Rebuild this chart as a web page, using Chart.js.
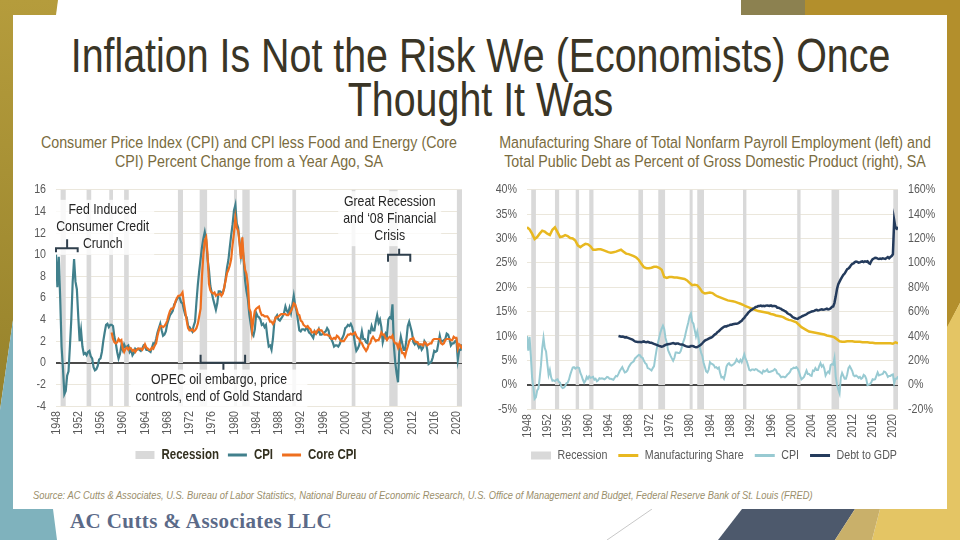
<!DOCTYPE html>
<html>
<head>
<meta charset="utf-8">
<title>Inflation Is Not the Risk</title>
<script src="https://cdn.jsdelivr.net/npm/chart.js@4.4.1/dist/chart.umd.min.js"></script>
<style>
  body { margin: 0; width: 960px; height: 540px; overflow: hidden; background: #fff; position: relative;
         font-family: 'Liberation Sans', Arial, sans-serif; }
  #deco { position: absolute; left: 0; top: 0; }
  /* Liberation Sans squeezed to stand in for Arial Narrow */
  .nw { position: absolute; transform: scaleX(0.82); white-space: nowrap; }
  .title { top: 34px; left: -89.5px; width: 1139px; transform-origin: 50% 0; text-align: center;
           font-size: 48px; line-height: 44px; color: #3a3526; }
  .sub { top: 132.5px; transform-origin: 50% 0; text-align: center; font-size: 17.4px; line-height: 19px; color: #7a6c40; }
  .source { left: 33px; top: 488.5px; transform-origin: 0 0; font-size: 11.4px; font-style: italic; color: #9a8e6a; }
  .logo { position: absolute; left: 70px; top: 509px; font-family: 'Liberation Serif', 'DejaVu Serif', serif;
          font-weight: bold; font-size: 21px; letter-spacing: 0.4px; color: #5b6a88; white-space: nowrap; }
  canvas { position: absolute; }
</style>
</head>
<body>
<svg id="deco" width="960" height="540">
  <defs>
    <linearGradient id="goldLeft" x1="0" y1="0" x2="0" y2="1">
      <stop offset="0" stop-color="#b59c3c"/>
      <stop offset="1" stop-color="#96822b"/>
    </linearGradient>
  </defs>
  <polygon points="0,0 58,0 50,60 13,320 0,410" fill="url(#goldLeft)"/>
  <polygon points="0,410 13,320 40,133 50,133 53,509 57,540 0,540" fill="#7fb2bd"/>
  <polygon points="741,0 805,0 805,40 741,20" fill="#8c8150"/>
  <polygon points="805,0 960,0 960,303 900,420 805,40" fill="#b38f2c"/>
  <polygon points="960,303 960,540 872,540 880,509 947,327" fill="#e4c564"/>
  <polygon points="742,509 855,509 835,540 718,540" fill="#4d596c"/>
  <polygon points="855,509 880,509 872,540 835,540" fill="#c9b06a"/>
  <line x1="607" y1="540" x2="652" y2="509" stroke="#c8c8c8" stroke-width="1"/>
  <rect x="13" y="15" width="934" height="494" fill="#fff"/>
</svg>

<div class="nw title">Inflation Is Not the Risk We (Economists) Once<br>Thought It Was</div>
<div class="nw sub" style="left:-31px;width:560px;">Consumer Price Index (CPI) and CPI less Food and Energy (Core<br>CPI) Percent Change from a Year Ago, SA</div>
<div class="nw sub" style="left:414.5px;width:600px;">Manufacturing Share of Total Nonfarm Payroll Employment (left) and<br>Total Public Debt as Percent of Gross Domestic Product (right), SA</div>

<canvas id="leftChart" width="472" height="302" style="left:10px;top:172px;"></canvas>
<canvas id="rightChart" width="472" height="302" style="left:478px;top:172px;"></canvas>

<div class="nw source">Source: AC Cutts &amp; Associates, U.S. Bureau of Labor Statistics, National Bureau of Economic Research, U.S. Office of Management and Budget, Federal Reserve Bank of St. Louis (FRED)</div>
<div class="logo">AC Cutts &amp; Associates LLC</div>

<script>
// CPI, % change from a year ago, quarterly from 1948 Q1
const cpiStartYear = 1948;
const cpiQuarterly = [
  10.0, 7.0, 9.8, 6.0,
  1.5, -0.5, -2.9, -2.6,
  -1.2, -0.8, 1.5, 4.0,
  7.5, 9.6, 7.5, 6.8,
  4.3, 2.0, 3.0, 1.5,
  0.8, 0.9, 0.7, 1.0,
  1.1, 0.6, 0.4, -0.4,
  -0.7, -0.6, -0.3, 0.3,
  0.4, 1.0, 2.0, 2.8,
  3.5, 3.6, 3.3, 3.5,
  3.5, 3.4, 2.4, 1.8,
  1.0, 0.4, 0.8, 1.6,
  1.2, 1.7, 1.4, 1.5,
  1.6, 1.0, 1.2, 0.7,
  0.9, 1.3, 1.2, 1.3,
  1.2, 1.1, 1.3, 1.6,
  1.5, 1.2, 1.2, 1.1,
  1.0, 1.4, 1.8, 1.7,
  2.2, 2.8, 3.2, 3.6,
  3.0, 2.5, 2.6, 2.9,
  3.6, 4.0, 4.4, 4.6,
  4.8, 5.4, 5.6, 5.9,
  6.1, 6.0, 5.6, 5.5,
  4.9, 4.4, 4.2, 3.4,
  3.3, 3.1, 2.9, 3.4,
  3.8, 5.6, 7.2, 8.5,
  9.6, 10.7, 11.5, 12.1,
  11.4, 9.6, 8.6, 7.1,
  6.5, 5.9, 5.4, 4.9,
  5.5, 6.6, 6.6, 6.5,
  6.5, 6.9, 7.8, 8.8,
  9.5, 10.7, 11.8, 12.8,
  14.1, 14.6, 12.9, 12.5,
  11.2, 9.9, 10.9, 9.5,
  7.6, 6.6, 5.9, 4.5,
  3.6, 2.7, 2.5, 3.1,
  4.6, 4.3, 4.2, 4.0,
  3.5, 3.6, 3.3, 3.5,
  2.4, 1.5, 1.6, 1.2,
  2.2, 3.7, 4.2, 4.4,
  4.0, 3.9, 4.1, 4.3,
  4.6, 5.2, 4.8, 4.6,
  5.1, 4.6, 5.4, 6.2,
  5.3, 4.8, 3.9, 3.0,
  2.9, 3.1, 3.1, 3.0,
  3.2, 3.1, 2.8, 2.7,
  2.5, 2.3, 2.9, 2.7,
  2.8, 3.1, 2.6, 2.6,
  2.7, 2.8, 2.9, 3.2,
  3.0, 2.3, 2.2, 1.9,
  1.5, 1.6, 1.6, 1.5,
  1.7, 2.1, 2.3, 2.6,
  3.2, 3.3, 3.5, 3.4,
  3.6, 3.3, 2.7, 1.8,
  1.1, 1.3, 1.6, 2.2,
  2.9, 2.2, 2.2, 1.9,
  1.8, 2.9, 2.8, 3.4,
  3.0, 3.0, 3.8, 4.4,
  3.7, 4.0, 3.3, 1.9,
  2.4, 2.7, 2.4, 4.0,
  4.2, 4.1, 5.4, 1.6,
  0.0, -1.0, -1.8, 1.5,
  2.4, 1.8, 1.2, 1.2,
  2.1, 3.4, 3.8, 3.3,
  2.8, 1.9, 1.7, 1.9,
  1.7, 1.4, 1.6, 1.2,
  1.4, 2.0, 1.8, 1.2,
  -0.1, 0.0, 0.1, 0.5,
  1.1, 1.0, 1.1, 1.8,
  2.5, 1.9, 2.0, 2.1,
  2.2, 2.7, 2.6, 2.2,
  1.6, 1.8, 1.8, 2.0,
  2.1, 0.3, 1.2, 1.2,
  1.7
];

// Core CPI (less food and energy), quarterly from 1958 Q1
const coreStartYear = 1958;
const coreQuarterly = [
  2.8, 2.2, 1.9, 1.8,
  1.9, 2.2, 2.0, 2.1,
  1.3, 1.0, 1.3, 1.4,
  1.2, 1.4, 1.3, 1.1,
  1.2, 1.0, 1.2, 1.3,
  1.3, 1.3, 1.2, 1.4,
  1.7, 1.4, 1.3, 1.2,
  1.2, 1.4, 1.3, 1.6,
  1.8, 2.5, 3.0, 3.4,
  3.4, 3.3, 3.4, 3.6,
  3.9, 4.4, 4.8, 5.0,
  5.0, 5.2, 5.7, 6.0,
  6.2, 6.2, 6.3, 6.5,
  5.5, 4.7, 3.9, 3.2,
  3.0, 3.0, 3.1, 2.9,
  3.0, 3.2, 3.6, 4.3,
  5.0, 8.0, 10.0, 11.3,
  11.6, 10.0, 7.3, 6.7,
  6.5, 6.4, 6.5, 6.2,
  6.3, 6.3, 6.4, 6.2,
  6.4, 7.0, 7.6, 8.3,
  8.6, 9.0, 9.6, 10.9,
  12.0, 13.4, 12.5, 12.2,
  11.1, 9.6, 11.6, 9.6,
  8.6, 8.2, 7.2, 5.0,
  4.7, 3.0, 4.0, 4.8,
  5.0, 5.1, 5.2, 4.7,
  4.4, 4.4, 4.3, 4.3,
  4.3, 4.1, 3.8, 3.8,
  3.6, 3.8, 4.2, 4.2,
  4.3, 4.4, 4.5, 4.5,
  4.5, 4.5, 4.4, 4.4,
  4.6, 4.8, 5.1, 5.5,
  5.4, 5.0, 4.5, 4.4,
  3.9, 3.8, 3.5, 3.4,
  3.3, 3.4, 3.2, 3.1,
  2.8, 2.8, 2.9, 2.7,
  3.0, 3.1, 3.0, 3.0,
  2.8, 2.6, 2.6, 2.6,
  2.5, 2.5, 2.2, 2.2,
  2.3, 2.2, 2.5, 2.4,
  2.2, 2.0, 2.0, 2.0,
  2.2, 2.4, 2.6, 2.6,
  2.7, 2.6, 2.7, 2.8,
  2.5, 2.3, 2.2, 1.9,
  1.8, 1.5, 1.3, 1.1,
  1.3, 1.7, 1.8, 2.2,
  2.4, 2.2, 2.0, 2.1,
  2.1, 2.4, 2.8, 2.6,
  2.6, 2.3, 2.1, 2.3,
  2.4, 2.3, 2.5, 2.0,
  1.8, 1.8, 1.4, 1.8,
  1.3, 0.9, 0.9, 0.6,
  1.1, 1.5, 2.0, 2.2,
  2.2, 2.3, 2.0, 1.9,
  1.9, 1.7, 1.7, 1.7,
  1.6, 1.9, 1.8, 1.6,
  1.7, 1.8, 1.8, 2.1,
  2.2, 2.2, 2.2, 2.2,
  2.2, 1.8, 1.7, 1.8,
  2.1, 2.2, 2.2, 2.2,
  2.1, 2.1, 2.4, 2.3,
  2.3, 1.3, 1.7, 1.6,
  1.3
];

// Manufacturing share of nonfarm payrolls (%), half-yearly from 1948
const mfgStartYear = 1948;
const mfgHalfYearly = [
  32.3, 31.9, 31.0, 29.9, 30.3, 31.0, 31.6, 31.4, 31.0, 30.7,
  31.8, 32.3, 31.3, 30.3, 30.4, 30.7, 30.5, 30.1, 30.0, 29.6,
  28.6, 28.2, 28.6, 28.9, 28.8, 28.4, 27.7, 27.7, 27.8, 27.8,
  27.6, 27.4, 27.2, 27.1, 27.2, 27.3, 27.5, 27.7, 27.3, 26.9,
  26.8, 26.6, 26.4, 26.1, 25.6, 24.8, 24.1, 23.9, 23.9, 24.0,
  24.2, 24.2, 24.0, 23.6, 22.1, 21.9, 22.1, 22.1, 22.0, 22.0,
  21.9, 21.8, 21.7, 21.4, 20.9, 20.4, 20.5, 20.4, 19.8, 19.0,
  18.7, 18.8, 18.9, 18.8, 18.4, 18.1, 17.9, 17.7, 17.5, 17.3,
  17.2, 17.1, 17.0, 16.8, 16.6, 16.4, 16.1, 15.9, 15.7, 15.5,
  15.3, 15.1, 15.0, 14.9, 14.8, 14.7, 14.5, 14.4, 14.2, 14.1,
  14.0, 13.8, 13.5, 13.3, 13.2, 13.0, 12.8, 12.3, 11.8, 11.5,
  11.2, 10.9, 10.8, 10.7, 10.6, 10.5, 10.4, 10.3, 10.1, 10.0,
  9.9, 9.7, 9.3, 8.9, 8.8, 8.8, 8.9, 8.9, 8.9, 8.8,
  8.8, 8.8, 8.7, 8.7, 8.7, 8.6, 8.6, 8.5, 8.5, 8.5,
  8.5, 8.5, 8.5, 8.5, 8.4, 8.7, 8.5
];

// Total public debt as % of GDP, quarterly from 1966 Q1
const debtStartYear = 1966;
const debtQuarterly = [
  40.0, 39.7, 39.3, 39.5,
  39.3, 38.8, 39.0, 38.6,
  38.2, 37.8, 37.4, 37.0,
  36.2, 35.5, 35.3, 35.0,
  35.1, 35.0, 34.8, 35.3,
  35.5, 35.0, 34.9, 35.2,
  34.8, 34.3, 34.3, 33.9,
  33.4, 33.0, 32.6, 32.2,
  31.8, 31.5, 31.2, 31.4,
  32.0, 32.6, 33.0, 33.2,
  33.4, 33.6, 33.9, 34.1,
  33.8, 33.5, 33.7, 33.7,
  33.3, 33.0, 33.0, 32.6,
  32.1, 31.6, 31.3, 31.2,
  31.2, 31.7, 31.8, 31.5,
  31.0, 30.8, 30.9, 31.5,
  32.2, 32.9, 34.0, 35.2,
  36.2, 36.8, 37.2, 37.8,
  38.3, 38.7, 39.3, 40.4,
  41.3, 42.0, 43.2, 43.9,
  45.0, 45.9, 46.7, 47.5,
  47.9, 47.8, 48.4, 48.7,
  49.1, 49.2, 49.6, 49.8,
  50.0, 50.0, 50.3, 50.9,
  51.8, 52.4, 53.8, 54.8,
  56.4, 57.4, 58.9, 59.9,
  61.0, 61.6, 62.4, 62.9,
  63.8, 64.0, 64.5, 64.6,
  64.9, 64.4, 64.7, 64.4,
  64.9, 65.0, 64.8, 64.7,
  65.1, 64.5, 64.6, 64.5,
  64.3, 63.2, 63.2, 62.6,
  62.2, 61.4, 60.9, 60.3,
  59.8, 58.6, 58.0, 57.5,
  56.7, 55.5, 55.0, 54.5,
  54.2, 54.0, 54.8, 55.3,
  55.8, 56.4, 56.8, 57.3,
  57.8, 58.6, 59.2, 59.6,
  60.0, 60.2, 60.6, 61.1,
  61.4, 61.0, 61.2, 61.6,
  61.9, 61.5, 61.6, 62.0,
  62.4, 61.8, 62.0, 62.7,
  63.9, 64.2, 67.2, 72.5,
  78.5, 82.4, 84.6, 86.6,
  88.5, 90.2, 91.2, 93.0,
  94.8, 95.3, 96.5, 98.1,
  99.2, 99.5, 100.6, 101.1,
  100.8, 100.2, 100.4, 101.0,
  101.2, 100.7, 101.3, 101.0,
  101.3, 99.9, 99.3, 101.5,
  103.0, 103.6, 104.1, 104.0,
  103.5, 103.2, 103.6, 103.3,
  103.8, 103.5, 103.2, 104.0,
  104.7, 103.8, 104.8, 105.6,
  107.0, 135.0, 128.8, 128.0,
  129.5
];

// NBER recessions (decimal years)
const recessionStarts = [1948.83, 1953.5, 1957.58, 1960.25, 1969.92, 1973.83, 1980.0, 1981.5, 1990.5, 2001.17, 2007.92, 2020.08];
const recessionEnds   = [1949.75, 1954.33, 1958.25, 1961.08, 1970.83, 1975.17, 1980.5, 1982.83, 1991.17, 2001.83, 2009.42, 2021.0];

const FONT = "'Liberation Sans', Arial, sans-serif";
const NARROW = 0.82;
const recessionColor = '#d9d9d9';
const tickColor = '#595959';

// annotations on the CPI chart, anchored in data units
const notes = [
  { lines: ['Fed Induced', 'Consumer Credit', 'Crunch'], x: 1956.4, y: 14.1 },
  { lines: ['Great Recession', 'and \u201808 Financial', 'Crisis'], x: 2008.0, y: 14.9 },
  { lines: ['OPEC oil embargo, price', 'controls, end of Gold Standard'], x: 1977.3, y: -1.6 },
];
const braces = [
  { from: 1948.0, to: 1951.9, y: 10.6, tip: 4, notchAt: 1950.0, notch: -9 },
  { from: 2007.7, to: 2011.7, y: 10.0, tip: 7, notchAt: 2009.7, notch: -6 },
  { from: 1974.0, to: 1982.0, y: 0, tip: -8, notchAt: 1978.1, notch: 7 },
];

Chart.defaults.font.family = FONT;

// no Arial Narrow here, so squeeze the canvas text horizontally
function narrowContext(canvas) {
  const ctx = canvas.getContext('2d');
  const fill = ctx.fillText.bind(ctx);
  const measure = ctx.measureText.bind(ctx);
  ctx.fillText = (text, x, y) => {
    ctx.save();
    ctx.translate(x, y);
    ctx.scale(NARROW, 1);
    fill(text, 0, 0);
    ctx.restore();
  };
  ctx.measureText = text => {
    const m = measure(text);
    return {
      width: m.width * NARROW,
      actualBoundingBoxAscent: m.actualBoundingBoxAscent,
      actualBoundingBoxDescent: m.actualBoundingBoxDescent,
      actualBoundingBoxLeft: m.actualBoundingBoxLeft * NARROW,
      actualBoundingBoxRight: m.actualBoundingBoxRight * NARROW,
    };
  };
  return canvas;
}

function toPoints(start, step, values) {
  return values.map((v, i) => ({ x: start + i * step, y: v }));
}

const recessionBars = {
  id: 'recessionBars',
  beforeDatasetsDraw(chart) {
    const { ctx, chartArea, scales } = chart;
    const x = scales.x;
    ctx.save();
    ctx.fillStyle = recessionColor;
    recessionStarts.forEach((s, i) => {
      const x1 = x.getPixelForValue(s);
      const x2 = Math.min(x.getPixelForValue(recessionEnds[i]), chartArea.right);
      ctx.fillRect(x1, chartArea.top, Math.max(x2 - x1, 3), chartArea.bottom - chartArea.top);
    });
    // axis line back on top of the bars
    const y0 = Math.round(scales.y.getPixelForValue(0)) + 0.5;
    ctx.strokeStyle = '#4a4a4a';
    ctx.lineWidth = 1;
    ctx.beginPath();
    ctx.moveTo(chartArea.left, y0);
    ctx.lineTo(chartArea.right, y0);
    ctx.stroke();
    ctx.restore();
  }
};

const cpiNotes = {
  id: 'cpiNotes',
  beforeDatasetsDraw(chart) {
    const { ctx, scales: { x, y } } = chart;
    const lineH = 17;
    ctx.save();
    ctx.font = '15px ' + FONT;
    ctx.textAlign = 'center';
    ctx.textBaseline = 'middle';
    notes.forEach(n => {
      const cx = x.getPixelForValue(n.x);
      const cy = y.getPixelForValue(n.y);
      const w = Math.max(...n.lines.map(t => ctx.measureText(t).width)) + 10;
      const h = n.lines.length * lineH + 4;
      ctx.fillStyle = 'rgba(255,255,255,0.8)';
      ctx.fillRect(cx - w / 2, cy - lineH / 2 - 2, w, h);
      ctx.fillStyle = '#262626';
      n.lines.forEach((t, i) => ctx.fillText(t, cx, cy + i * lineH));
    });
    ctx.restore();
  },
  afterDatasetsDraw(chart) {
    const { ctx, scales: { x, y } } = chart;
    ctx.save();
    ctx.strokeStyle = '#2f3f4c';
    ctx.lineWidth = 2;
    braces.forEach(b => {
      const x1 = x.getPixelForValue(b.from);
      const x2 = x.getPixelForValue(b.to);
      const xm = x.getPixelForValue(b.notchAt);
      const py = y.getPixelForValue(b.y);
      ctx.beginPath();
      ctx.moveTo(x1, py + b.tip);
      ctx.lineTo(x1, py);
      ctx.lineTo(x2, py);
      ctx.lineTo(x2, py + b.tip);
      ctx.moveTo(xm, py);
      ctx.lineTo(xm, py + b.notch);
      ctx.stroke();
    });
    ctx.restore();
  }
};

function legendItems(chart) {
  const color = chart.options.plugins.legend.labels.color;
  return chart.data.datasets.map((ds, i) => {
    const isBar = ds.label === 'Recession';
    return {
      text: ds.label,
      datasetIndex: i,
      fillStyle: isBar ? recessionColor : ds.borderColor,
      strokeStyle: ds.borderColor,
      lineWidth: isBar ? 0 : 3,
      pointStyle: isBar ? 'rect' : 'line',
      hidden: false,
      fontColor: color,
    };
  });
}

function xAxis(height) {
  return {
    type: 'linear', min: 1948, max: 2021,
    grid: { display: false, drawTicks: false }, border: { display: false },
    afterFit: s => { s.height = height; },
    ticks: { stepSize: 4, includeBounds: false, autoSkip: false, minRotation: 90, maxRotation: 90,
             padding: 5, color: tickColor, font: { size: 13 }, callback: v => String(v) },
  };
}

function gridColor(c) {
  return c.tick.value === 0 ? '#4a4a4a' : '#ebe7dc';
}

// left: CPI and core CPI
new Chart(narrowContext(document.getElementById('leftChart')), {
  type: 'line',
  data: {
    datasets: [
      { label: 'Recession', data: [], borderColor: recessionColor, backgroundColor: recessionColor },
      { label: 'CPI', data: toPoints(cpiStartYear, 0.25, cpiQuarterly), borderColor: '#41808c', borderWidth: 2.2, order: 2 },
      { label: 'Core CPI', data: toPoints(coreStartYear, 0.25, coreQuarterly), borderColor: '#ee6f1f', borderWidth: 2.2, order: 1 },
    ]
  },
  options: {
    responsive: false,
    animation: false,
    elements: { point: { radius: 0 }, line: { tension: 0 } },
    layout: { padding: { top: 3, right: 20, bottom: 2, left: 20 } },
    scales: {
      x: xAxis(33),
      y: {
        min: -4, max: 16,
        afterFit: s => { s.width = 26; },
        border: { display: false },
        grid: { drawTicks: false, color: gridColor },
        ticks: { stepSize: 2, padding: 10, color: tickColor, font: { size: 13 } },
      },
    },
    plugins: {
      tooltip: { enabled: false },
      legend: {
        position: 'bottom',
        labels: { usePointStyle: true, pointStyleWidth: 19, boxHeight: 8, padding: 9, color: '#33301f',
                  font: { size: 14, weight: 'bold' }, generateLabels: legendItems },
      },
    },
  },
  plugins: [recessionBars, cpiNotes],
});

// right: manufacturing share, CPI and debt to GDP
new Chart(narrowContext(document.getElementById('rightChart')), {
  type: 'line',
  data: {
    datasets: [
      { label: 'Recession', data: [], borderColor: recessionColor, backgroundColor: recessionColor },
      { label: 'Manufacturing Share', data: toPoints(mfgStartYear, 0.5, mfgHalfYearly), borderColor: '#e8b820', borderWidth: 2.5, yAxisID: 'y', order: 2 },
      { label: 'CPI', data: toPoints(cpiStartYear, 0.25, cpiQuarterly), borderColor: '#98cad2', borderWidth: 2, yAxisID: 'y', order: 3 },
      { label: 'Debt to GDP', data: toPoints(debtStartYear, 0.25, debtQuarterly), borderColor: '#243b5c', borderWidth: 2.5, yAxisID: 'y2', order: 1 },
    ]
  },
  options: {
    responsive: false,
    animation: false,
    elements: { point: { radius: 0 }, line: { tension: 0 } },
    layout: { padding: { top: 3, right: 0, bottom: 2, left: 0 } },
    scales: {
      x: xAxis(29),
      y: {
        position: 'left', min: -5, max: 40,
        afterFit: s => { s.width = 49; },
        border: { display: false },
        grid: { drawTicks: false, color: gridColor },
        ticks: { stepSize: 5, padding: 10, color: tickColor, font: { size: 13 }, callback: v => v + '%' },
      },
      y2: {
        position: 'right', min: -20, max: 160,
        afterFit: s => { s.width = 52; },
        border: { display: false },
        grid: { display: false, drawTicks: false },
        ticks: { stepSize: 20, padding: 10, color: tickColor, font: { size: 13 }, callback: v => v + '%' },
      },
    },
    plugins: {
      tooltip: { enabled: false },
      legend: {
        position: 'bottom',
        labels: { usePointStyle: true, pointStyleWidth: 20, boxHeight: 8, padding: 11, color: '#595959',
                  font: { size: 13 }, generateLabels: legendItems },
      },
    },
  },
  plugins: [recessionBars],
});
</script>
</body>
</html>
